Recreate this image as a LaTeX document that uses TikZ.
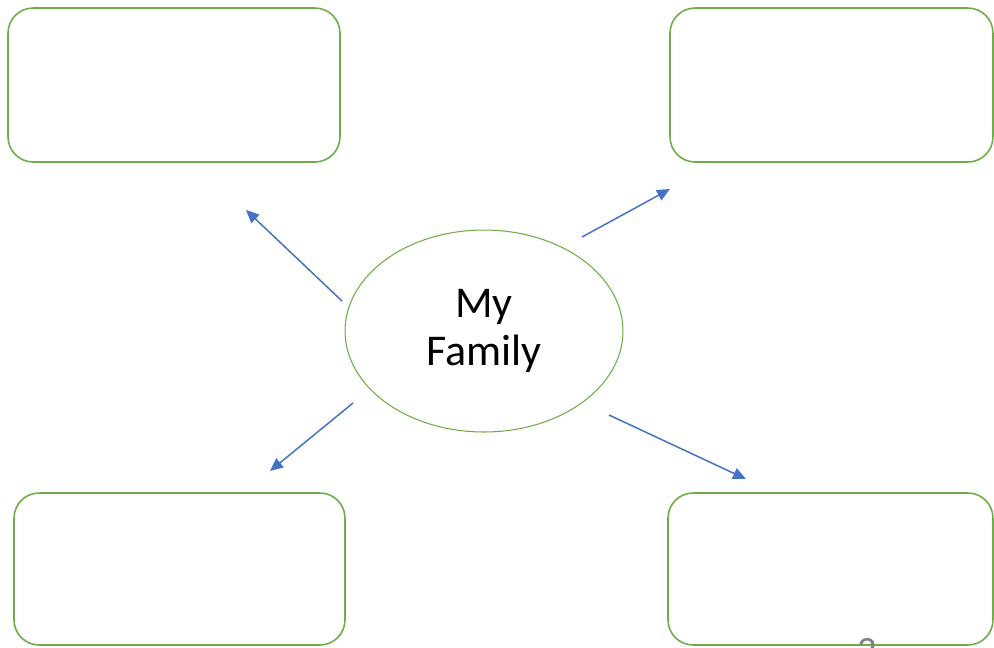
\documentclass[tikz,border=0pt]{standalone}
\usepackage{fontspec}
\setmainfont{Carlito}
\usetikzlibrary{shapes}
\usetikzlibrary{arrows.meta}
\definecolor{boxgreen}{RGB}{112,173,71}
\definecolor{arrowblue}{RGB}{68,114,196}
\tikzset{
    boxnode/.style = {rectangle, rounded corners=0.5cm, draw=boxgreen, line width=0.9pt, fill=white, inner sep=0pt},
    famnode/.style = {ellipse, draw=boxgreen, line width=0.6pt, inner sep=0pt, minimum width=5.56cm, minimum height=4.04cm, align=center, font=\fontsize{25}{27.5}\selectfont},
    edgeb/.style = {-{Triangle[length=0.26cm,width=0.23cm]}, line width=0.85pt, arrowblue}, % blue arrows
}
\begin{document}
\begin{tikzpicture}[x=0.02cm, y=-0.02cm]
  \useasboundingbox (0,0) rectangle (994,647);
  \node[famnode] (fam) at (484,331) {My\\Family};
  \node[boxnode, minimum width=6.64cm, minimum height=3.08cm] (tl) at (174,85) {};
  \node[boxnode, minimum width=6.46cm, minimum height=3.08cm] (tr) at (831.5,85) {};
  \node[boxnode, minimum width=6.62cm, minimum height=3.04cm] (bl) at (179.5,569) {};
  \node[boxnode, minimum width=6.50cm, minimum height=3.04cm] (br) at (830.5,569) {};
  \node[anchor=north, text=gray, font=\fontsize{22}{26}\selectfont] (num) at (867,632) {2};
  % arrow ends
  \coordinate (tls) at (342,301);
  \coordinate (tle) at (246,210);
  \coordinate (trs) at (582,237);
  \coordinate (tre) at (670,189);
  \coordinate (bls) at (353,403);
  \coordinate (ble) at (270,471);
  \coordinate (brs) at (609,415);
  \coordinate (bre) at (746,479);
  \draw[edgeb] (tls) -- (tle);
  \draw[edgeb] (trs) -- (tre);
  \draw[edgeb] (bls) -- (ble);
  \draw[edgeb] (brs) -- (bre);
\end{tikzpicture}
\end{document}
